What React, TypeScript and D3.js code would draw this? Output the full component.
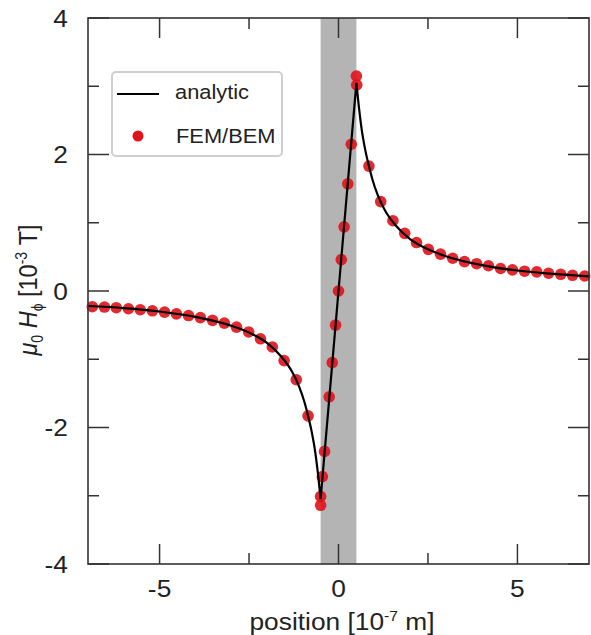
import * as d3 from "d3";

// analytic curve (outer left, inside, outer right)
const lineLeftX = [-7, -6, -5, -4, -3, -2.5, -2, -1.6, -1.3, -1.1, -0.95, -0.85, -0.75, -0.65, -0.58, -0.5];
const lineLeftY = [-0.22, -0.25, -0.3, -0.38, -0.51, -0.61, -0.76, -0.96, -1.18, -1.4, -1.63, -1.83, -2.06, -2.36, -2.65, -3.05];
const lineInX = [-0.5, 0.5];
const lineInY = [-3.05, 3.05];
const lineRightX = [0.5, 0.58, 0.65, 0.75, 0.85, 0.95, 1.1, 1.3, 1.6, 2, 2.5, 3, 4, 5, 6, 7];
const lineRightY = [3.05, 2.65, 2.36, 2.06, 1.83, 1.63, 1.4, 1.18, 0.96, 0.76, 0.61, 0.51, 0.38, 0.3, 0.25, 0.215];

// FEM/BEM points
const femX = [
  -6.88, -6.54, -6.21, -5.87, -5.54, -5.2, -4.86, -4.53, -4.19, -3.86, -3.52, -3.19, -2.85, -2.51, -2.18, -1.85, -1.52, -1.18, -0.85,
  -0.5, -0.5, -0.45, -0.39, -0.26, -0.175, -0.083, 0, 0.078, 0.157, 0.26, 0.357, 0.51, 0.5,
  0.85, 1.18, 1.52, 1.85, 2.18, 2.51, 2.85, 3.19, 3.52, 3.86, 4.19, 4.53, 4.86, 5.2, 5.54, 5.87, 6.21, 6.54, 6.88,
];
const femY = [
  -0.23, -0.235, -0.245, -0.26, -0.275, -0.29, -0.31, -0.335, -0.36, -0.39, -0.43, -0.47, -0.53, -0.6, -0.7, -0.82, -1.02, -1.3, -1.83,
  -3.14, -3.01, -2.72, -2.35, -1.55, -1.05, -0.5, 0, 0.46, 0.94, 1.57, 2.15, 3.02, 3.15,
  1.83, 1.31, 1.03, 0.845, 0.71, 0.61, 0.54, 0.48, 0.43, 0.4, 0.37, 0.33, 0.31, 0.29, 0.28, 0.26, 0.245, 0.23, 0.22,
];

const band = [-0.5, 0.5];
const xMajor = [-5, 0, 5];
const xMinor = [-2.5, 2.5];
const yMajor = [-4, -2, 0, 2, 4];
const yMinor = [-3, -1, 1, 3];

const W = 591;
const H = 635;
const left = 88;
const right = 589;
const top = 18;
const bottom = 564;
const font = "'Liberation Sans', Arial, sans-serif";
const sx = 1.12; // the picture's text is a little wide

function Label({ x, y, anchor = "middle", size = 23.5, children, rotate = 0 }: any) {
  return (
    <text
      transform={`translate(${x},${y}) scale(${sx},1)${rotate ? ` rotate(${rotate})` : ""}`}
      textAnchor={anchor}
      fontSize={size}
      fontFamily={font}
      fill="#222"
    >
      {children}
    </text>
  );
}

export default function App() {
  const x = d3.scaleLinear().domain([-7, 7]).range([left, right]);
  const y = d3.scaleLinear().domain([-4, 4]).range([bottom, top]);

  const curve = d3
    .line<[number, number]>()
    .x((d) => x(d[0]))
    .y((d) => y(d[1]))
    .curve(d3.curveMonotoneX);
  const straight = d3
    .line<[number, number]>()
    .x((d) => x(d[0]))
    .y((d) => y(d[1]));

  const zip = (a: number[], b: number[]) => a.map((v, i) => [v, b[i]] as [number, number]);
  const pathD =
    (curve(zip(lineLeftX, lineLeftY)) || "") +
    (straight(zip(lineInX, lineInY)) || "") +
    (curve(zip(lineRightX, lineRightY)) || "");

  const frame = "#333";

  return (
    <svg width={W} height={H} style={{ position: "absolute", left: 0, top: 0, background: "#fff" }}>
      <rect x={x(band[0])} y={top} width={x(band[1]) - x(band[0])} height={bottom - top} fill="#b4b4b4" />

      {femX.map((v, i) => (
        <circle key={i} cx={x(v)} cy={y(femY[i])} r={5.8} fill="#e0121a" opacity={0.9} />
      ))}
      <path d={pathD} fill="none" stroke="#000" strokeWidth={2.2} strokeLinejoin="miter" />

      {/* ticks on all four sides, pointing inward */}
      <g stroke={frame} strokeWidth={1.5}>
        {xMajor.map((t) => (
          <g key={"xM" + t}>
            <line x1={x(t)} x2={x(t)} y1={bottom} y2={bottom - 20} />
            <line x1={x(t)} x2={x(t)} y1={top} y2={top + 20} />
          </g>
        ))}
        {xMinor.map((t) => (
          <g key={"xm" + t}>
            <line x1={x(t)} x2={x(t)} y1={bottom} y2={bottom - 11} />
            <line x1={x(t)} x2={x(t)} y1={top} y2={top + 11} />
          </g>
        ))}
        {yMajor.map((t) => (
          <g key={"yM" + t}>
            <line x1={left} x2={left + 21} y1={y(t)} y2={y(t)} />
            <line x1={right} x2={right - 21} y1={y(t)} y2={y(t)} />
          </g>
        ))}
        {yMinor.map((t) => (
          <g key={"ym" + t}>
            <line x1={left} x2={left + 11} y1={y(t)} y2={y(t)} />
            <line x1={right} x2={right - 11} y1={y(t)} y2={y(t)} />
          </g>
        ))}
      </g>
      <rect x={left} y={top} width={right - left} height={bottom - top} fill="none" stroke={frame} strokeWidth={1.6} />

      {xMajor.map((t) => (
        <Label key={"xl" + t} x={x(t)} y={597}>
          {t < 0 ? "-" + Math.abs(t) : String(t)}
        </Label>
      ))}
      {yMajor.map((t) => (
        <Label key={"yl" + t} x={68} y={y(t) + 8.5} anchor="end">
          {t < 0 ? "-" + Math.abs(t) : String(t)}
        </Label>
      ))}

      <Label x={342} y={630}>
        position [10<tspan fontSize={14} dy={-9}>-7</tspan>
        <tspan dy={9}> m]</tspan>
      </Label>

      <Label x={37} y={290} rotate={-90}>
        <tspan fontStyle="italic">μ</tspan>
        <tspan fontSize={14} dy={5}>0</tspan>
        <tspan dy={-5}> </tspan>
        <tspan fontStyle="italic">H</tspan>
        <tspan fontSize={14} dy={5}>ϕ</tspan>
        <tspan dy={-5}> [10</tspan>
        <tspan fontSize={14} dy={-9}>-3</tspan>
        <tspan dy={9}> T]</tspan>
      </Label>

      {/* legend */}
      <rect x={112} y={72} width={170} height={84} rx={4} fill="#fff" stroke="#cfcfcf" strokeWidth={2} />
      <line x1={117} x2={159} y1={94} y2={94} stroke="#000" strokeWidth={2} />
      <Label x={175} y={99} anchor="start" size={19.5}>
        analytic
      </Label>
      <circle cx={138} cy={136} r={5.5} fill="#e0121a" />
      <Label x={176} y={143} anchor="start" size={19.5}>
        FEM/BEM
      </Label>
    </svg>
  );
}
